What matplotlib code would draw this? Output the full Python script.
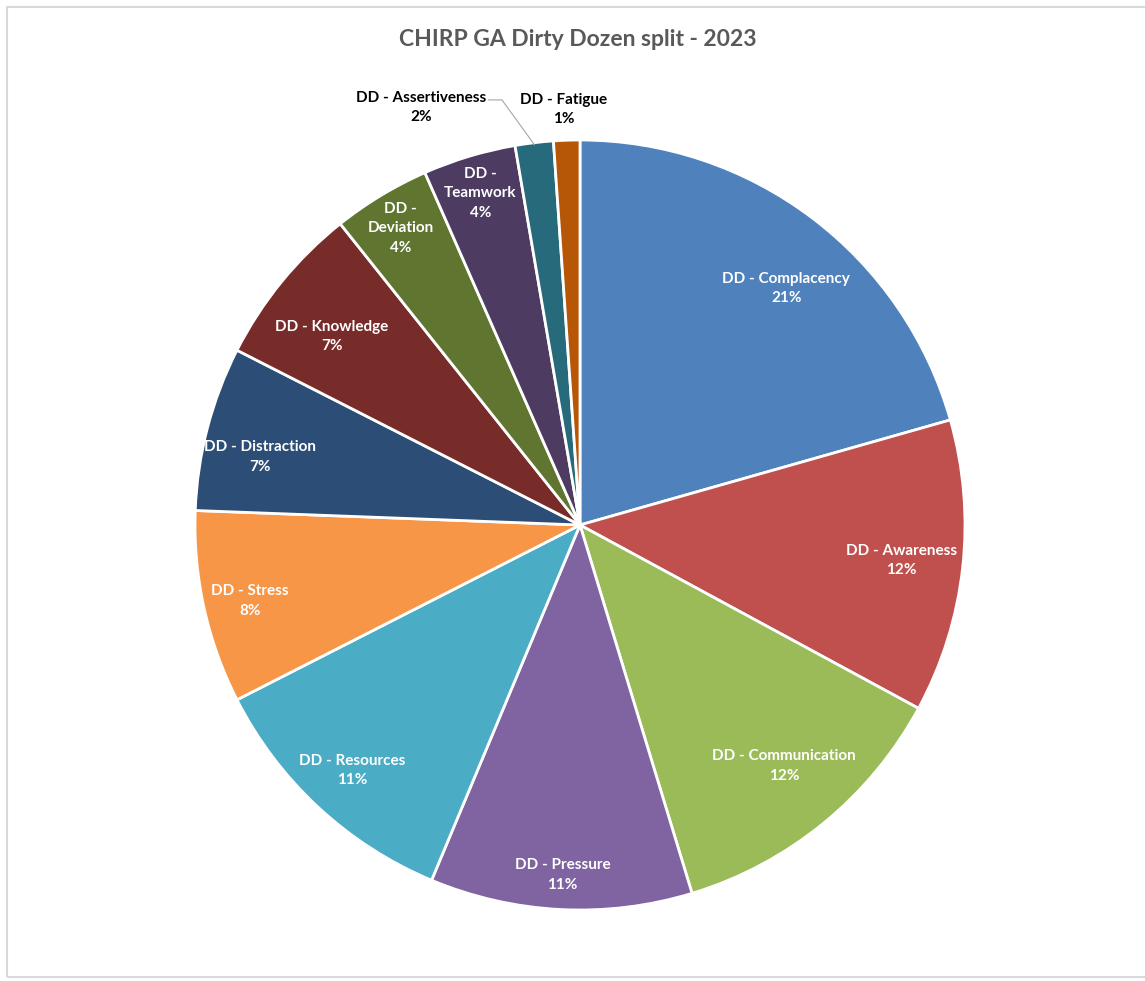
import matplotlib
matplotlib.use("Agg")
from matplotlib import pyplot as plt
from matplotlib.patches import Rectangle
import numpy as np

plt.rcParams['font.family'] = ['Lato', 'DejaVu Sans']

categories = ['DD - Complacency', 'DD - Awareness', 'DD - Communication', 'DD - Pressure',
              'DD - Resources', 'DD - Stress', 'DD - Distraction', 'DD - Knowledge',
              'DD -\nDeviation', 'DD -\nTeamwork', 'DD - Assertiveness', 'DD - Fatigue']
values = [20.6, 12.3, 12.4, 11.0, 11.2, 8.1, 6.9, 6.8, 4.1, 3.9, 1.6, 1.1]
pct_labels = ['21%', '12%', '12%', '11%', '11%', '8%', '7%', '7%', '4%', '4%', '2%', '1%']
colors = ['#4F81BD', '#C0504D', '#9BBB59', '#8064A2', '#4BACC6', '#F79646',
          '#2C4D75', '#772C2A', '#5F7530', '#4D3B62', '#276A7C', '#B65708']

# label radius and angle shift (deg) for each slice
lab_r = [0.815, 0.84, 0.82, 0.91, 0.87, 0.88, 0.85, 0.81, 0.90, 0.90, 1.16, 1.08]
lab_shift = [-4, 0, 1, 0, 0, 0.5, 2.6, 2, 0, 0, 14, 0.3]

fig = plt.figure(figsize=(11.45, 9.81), dpi=100)
fig.patches.append(Rectangle((7/1145, 4/981), 1.1, 970/981, transform=fig.transFigure,
                             fill=False, edgecolor='#d9d9d9', linewidth=1.5))
fig.text(0.505, 1 - 40/981, 'CHIRP GA Dirty Dozen split - 2023', ha='center', va='center',
         fontsize=16.5, fontweight='bold', color='#595959')

ax = fig.add_axes([(580-400)/1145, (456-400)/981, 800/1145, 800/981])
wedges, _ = ax.pie(values, colors=colors, startangle=90, counterclock=False,
                   wedgeprops=dict(edgecolor='white', linewidth=2))
ax.set_xlim(-800/2/385, 800/2/385)
ax.set_ylim(-800/2/385, 800/2/385)
ax.set_aspect('equal')
ax.axis('off')

for i, w in enumerate(wedges):
    mid = np.deg2rad((w.theta1 + w.theta2) / 2 + lab_shift[i])
    x, y = lab_r[i] * np.cos(mid), lab_r[i] * np.sin(mid)
    inside = lab_r[i] < 1
    col = 'white' if inside else 'black'
    ax.text(x, y, categories[i] + '\n' + pct_labels[i], ha='center', va='center',
            color=col, fontsize=11, fontweight='bold', linespacing=1.5, clip_on=False)

# leader line for Assertiveness
w = wedges[10]
mid = np.deg2rad((w.theta1 + w.theta2) / 2)
ang = np.deg2rad((w.theta1 + w.theta2) / 2 + 14)
tx, ty = 1.16 * np.cos(ang), 1.16 * np.sin(ang)
ax.plot([tx + 0.175, tx + 0.21, 0.995 * np.cos(mid)], [ty + 0.02, ty + 0.02, 0.995 * np.sin(mid)],
        color='#a6a6a6', linewidth=0.8, clip_on=False)

fig.savefig('out.png', dpi=100)
